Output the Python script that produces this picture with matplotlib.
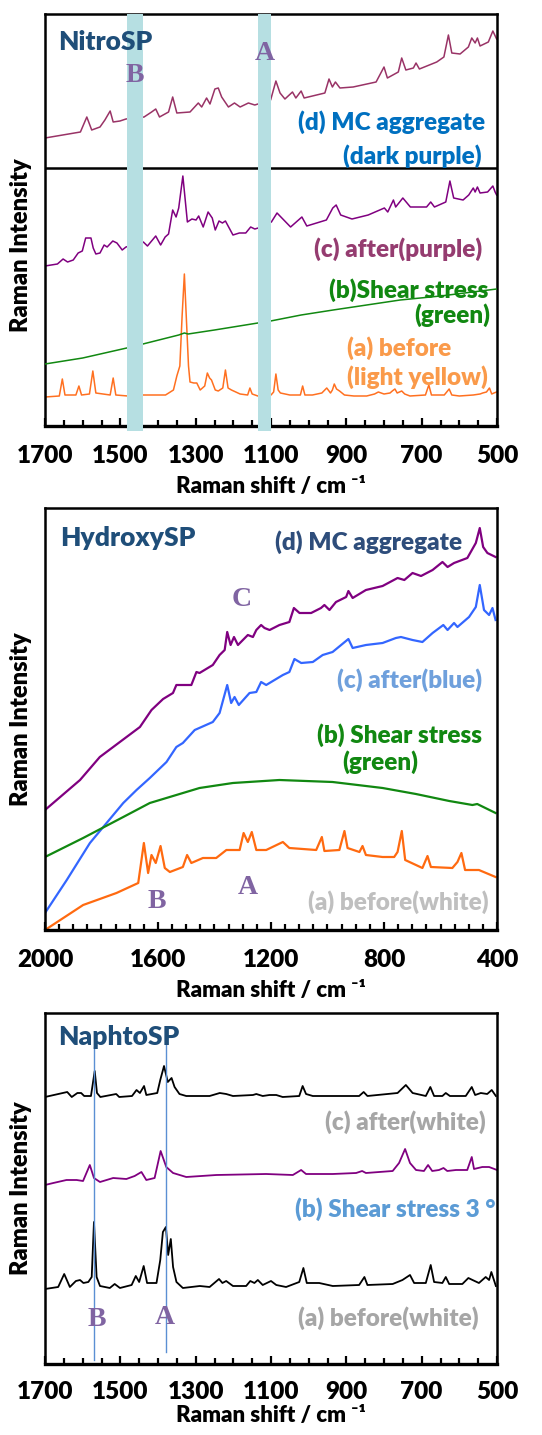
import numpy as np
import matplotlib
matplotlib.use("Agg")
import matplotlib.pyplot as plt
from matplotlib.ticker import FixedLocator, MultipleLocator

plt.rcParams['font.family'] = ['Lato', 'DejaVu Sans']
WEIGHT = 'heavy'

# ---------------- NitroSP (top panel) ----------------
nitro_ticks = [1700, 1500, 1300, 1100, 900, 700, 500]
nitro_bands = [(1440, 1483), (1100, 1135)]

nitro_a_cm = [1700, 1662, 1654, 1647, 1618, 1610, 1603, 1582, 1573, 1565, 1527, 1519, 1512, 1480, 1440, 1380,
              1359, 1350, 1342, 1336, 1330, 1325, 1319, 1315, 1305, 1297, 1288, 1276, 1269, 1263, 1258, 1248,
              1240, 1228, 1221, 1214, 1205, 1182, 1162, 1156, 1150, 1135, 1100, 1093, 1087, 1081, 1075, 1050,
              1022, 1016, 1010, 990, 965, 952, 942, 937, 932, 926, 918, 905, 880, 846, 825, 815, 800, 784,
              778, 771, 765, 753, 745, 731, 690, 681, 674, 640, 627, 620, 600, 563, 545, 538, 528, 520, 514,
              508, 501]
nitro_a_int = [29, 30, 47, 31, 31, 40, 31, 32, 55, 33, 31, 48, 31, 30, 31, 31,
               36, 50, 60, 110, 152, 110, 60, 44, 43, 43, 36, 40, 53, 48, 46, 36,
               35, 38, 56, 38, 36, 32, 31, 38, 32, 30, 31, 34, 52, 36, 33, 31,
               31, 40, 31, 31, 33, 38, 33, 36, 42, 37, 35, 31, 30, 30, 32, 34, 32, 33,
               35, 37, 33, 35, 32, 30, 31, 41, 31, 31, 37, 31, 30, 31, 32, 33, 34, 38, 32,
               33, 34]

nitro_b_cm = [1700, 1600, 1483, 1440, 1345, 1330, 1320, 1250, 1135, 1101, 1020, 935, 757, 650, 501]
nitro_b_int = [62, 68, 78, 82, 91, 93, 92, 96, 103, 105, 111, 116, 126, 130, 137]

nitro_c_cm = [1700, 1667, 1652, 1640, 1625, 1612, 1601, 1592, 1584, 1578, 1572, 1565, 1554, 1543, 1535, 1520,
              1509, 1495, 1485, 1439, 1428, 1406, 1393, 1381, 1372, 1361, 1352, 1345, 1334, 1322, 1310, 1299,
              1292, 1280, 1267, 1256, 1248, 1238, 1229, 1221, 1201, 1184, 1167, 1154, 1143, 1134, 1099, 1084,
              1048, 1018, 1005, 953, 936, 927, 915, 885, 842, 799, 790, 775, 769, 750, 730, 687, 676, 666,
              636, 625, 615, 590, 575, 563, 558, 552, 545, 525, 511, 505, 501]
nitro_c_int = [160, 162, 167, 164, 166, 173, 175, 188, 188, 188, 178, 172, 173, 181, 179, 185,
               183, 176, 179, 184, 180, 190, 181, 189, 192, 216, 209, 218, 250, 204, 207, 206,
               210, 199, 214, 208, 196, 205, 203, 205, 191, 193, 193, 199, 197, 198, 204, 213,
               199, 209, 200, 206, 218, 221, 211, 207, 211, 218, 214, 226, 219, 228, 219, 219, 224, 219,
               224, 245, 228, 226, 231, 238, 234, 239, 233, 234, 240, 234, 231]

nitro_d_cm = [1700, 1606, 1589, 1576, 1554, 1541, 1527, 1519, 1501, 1485, 1437, 1417, 1406, 1396, 1372, 1361,
              1350, 1315, 1293, 1284, 1271, 1262, 1249, 1240, 1231, 1213, 1197, 1182, 1160, 1143, 1101, 1087,
              1076, 1063, 1043, 1034, 1020, 1012, 957, 946, 937, 929, 917, 882, 821, 800, 791, 762, 753,
              742, 722, 715, 706, 660, 641, 629, 620, 598, 576, 567, 558, 552, 545, 523, 511, 501]
nitro_d_int = [288, 294, 309, 296, 299, 306, 315, 304, 305, 307, 309, 314, 317, 309, 314, 329,
               313, 314, 323, 319, 328, 322, 337, 338, 329, 319, 323, 319, 323, 321, 326, 345,
               333, 327, 334, 328, 335, 328, 333, 347, 339, 344, 338, 339, 344, 359, 348, 354, 368,
               356, 358, 363, 357, 364, 369, 391, 373, 372, 379, 388, 383, 388, 380, 384, 395, 387]

# ---------------- HydroxySP (middle panel) ----------------
hydroxy_ticks = [2000, 1600, 1200, 800, 400]

hydroxy_d_cm = [2000, 1876, 1806, 1664, 1623, 1582, 1547, 1535, 1482, 1464, 1453, 1406, 1382, 1364, 1355, 1343,
                1331, 1317, 1282, 1264, 1252, 1235, 1223, 1205, 1170, 1135, 1119, 1099, 1058, 1023, 1011, 993,
                970, 934, 926, 911, 864, 805, 752, 728, 699, 669, 628, 593, 575, 552, 505, 475, 461, 449,
                434, 405]
hydroxy_d_int = [120, 150, 173, 203, 220, 231, 237, 245, 245, 258, 257, 265, 275, 280, 298, 285,
                 293, 285, 295, 293, 300, 305, 302, 300, 305, 308, 322, 317, 317, 322, 325, 320,
                 328, 333, 339, 332, 340, 344, 352, 350, 357, 354, 360, 368, 363, 367, 372, 387, 402, 383,
                 377, 373]

hydroxy_c_cm = [2000, 1923, 1841, 1782, 1723, 1676, 1629, 1570, 1535, 1512, 1470, 1406, 1382, 1355, 1341, 1329,
                1314, 1276, 1252, 1235, 1217, 1158, 1135, 1117, 1093, 1052, 1017, 982, 926, 911, 864, 805,
                758, 740, 699, 664, 628, 590, 575, 552, 540, 499, 475, 461, 446, 428, 416, 405]
hydroxy_c_int = [17, 50, 87, 107, 127, 140, 152, 168, 183, 187, 200, 208, 217, 245, 227, 233,
                 225, 237, 238, 248, 245, 255, 258, 271, 267, 268, 275, 278, 291, 282, 285, 287,
                 292, 293, 290, 288, 297, 305, 300, 307, 303, 313, 323, 345, 320, 315, 322, 310]

hydroxy_b_cm = [2000, 1865, 1723, 1629, 1453, 1335, 1170, 982, 805, 687, 569, 487, 470, 405]
hydroxy_b_int = [73, 92, 113, 127, 142, 147, 150, 148, 142, 136, 129, 125, 126, 117]

hydroxy_a_cm = [2000, 1865, 1747, 1670, 1650, 1635, 1623, 1608, 1591, 1576, 1558, 1512, 1497, 1482, 1441, 1394,
                1358, 1311, 1297, 1282, 1268, 1252, 1217, 1158, 1135, 1040, 1020, 1011, 958, 940, 929, 887,
                876, 864, 805, 764, 752, 737, 725, 664, 646, 634, 558, 540, 526, 513, 464, 405]
hydroxy_a_int = [0, 25, 37, 47, 87, 57, 75, 67, 84, 62, 58, 63, 75, 67, 72, 72,
                 80, 80, 97, 88, 98, 80, 80, 88, 82, 80, 93, 79, 80, 99, 82, 78,
                 84, 75, 73, 73, 78, 99, 70, 62, 74, 63, 62, 68, 77, 60, 60, 53]

# ---------------- NaphtoSP (bottom panel) ----------------
naphto_ticks = [1700, 1500, 1300, 1100, 900, 700, 500]
naphto_marks_cm = [1570, 1380]

naphto_c_cm = [1700, 1641, 1629, 1614, 1604, 1596, 1578, 1568, 1562, 1553, 1511, 1503, 1469, 1457, 1448, 1437,
               1431, 1402, 1394, 1384, 1374, 1364, 1356, 1343, 1325, 1263, 1236, 1219, 1201, 1148, 1139, 1122,
               1104, 1086, 1069, 1025, 1016, 1007, 989, 866, 854, 844, 764, 742, 724, 689, 677, 667, 645,
               636, 625, 583, 567, 558, 543, 526, 514, 503]
naphto_c_int = [267, 272, 267, 271, 271, 268, 268, 293, 271, 267, 270, 267, 268, 274, 271, 278,
                269, 271, 284, 298, 282, 286, 277, 270, 268, 268, 271, 270, 268, 269, 270, 268,
                269, 269, 267, 268, 278, 270, 268, 268, 272, 268, 271, 279, 271, 268, 277, 268, 268,
                271, 268, 268, 277, 269, 271, 270, 274, 268]

naphto_b_cm = [1700, 1678, 1643, 1616, 1599, 1581, 1570, 1554, 1519, 1484, 1462, 1444, 1431, 1409, 1393, 1378,
               1360, 1325, 1245, 1113, 1042, 1020, 1007, 936, 874, 858, 848, 777, 760, 744, 731, 715,
               694, 683, 672, 654, 642, 632, 609, 579, 567, 561, 539, 521, 500]
naphto_b_int = [179, 181, 184, 184, 183, 199, 186, 182, 186, 185, 188, 192, 184, 186, 213, 197,
                191, 187, 189, 190, 189, 194, 190, 190, 191, 193, 191, 193, 201, 215, 201, 194,
                193, 199, 193, 194, 196, 193, 194, 194, 207, 195, 197, 197, 194]

naphto_a_cm = [1700, 1665, 1649, 1634, 1618, 1607, 1598, 1585, 1576, 1570, 1563, 1554, 1528, 1515, 1501, 1470,
               1459, 1450, 1438, 1429, 1404, 1394, 1387, 1379, 1373, 1366, 1360, 1351, 1334, 1289, 1263, 1238,
               1229, 1219, 1201, 1166, 1155, 1144, 1135, 1122, 1100, 1086, 1060, 1025, 1014, 1005, 972, 936,
               866, 852, 844, 777, 751, 731, 720, 689, 676, 667, 645, 636, 627, 592, 576, 565, 548, 530,
               521, 515, 503]
naphto_a_int = [75, 77, 90, 77, 83, 84, 81, 82, 87, 142, 87, 78, 76, 80, 76, 79,
                88, 82, 98, 81, 81, 104, 132, 137, 109, 125, 97, 82, 76, 78, 77, 85,
                81, 83, 78, 78, 83, 81, 84, 79, 83, 79, 77, 82, 96, 81, 81, 78,
                79, 87, 79, 80, 84, 89, 81, 81, 99, 82, 81, 87, 80, 80, 86, 84, 81, 87,
                84, 92, 78]

# ---------------- figure ----------------
fig = plt.figure(figsize=(5.42, 14.35), dpi=100)
W, H = 542, 1435


def make_axes(top, bottom):
    return fig.add_axes([45 / W, 1 - bottom / H, 452 / W, (bottom - top) / H])


navy = '#1f4e79'
letter_col = '#8064a2'
grey = '#bfbfbf'


def style_axes(ax, xlim, ylim, ticks, ylab_y=0.5, tpad=14, lpad=6):
    ax.set_xlim(*xlim)
    ax.set_ylim(*ylim)
    ax.xaxis.set_major_locator(FixedLocator(ticks))
    ax.xaxis.set_minor_locator(MultipleLocator(50))
    ax.tick_params(axis='x', which='both', direction='in', top=False, width=1.6, labelsize=17.5, pad=tpad)
    ax.tick_params(axis='x', which='major', length=6)
    ax.tick_params(axis='x', which='minor', length=4)
    ax.set_yticks([])
    for s in ax.spines.values():
        s.set_linewidth(1.8)
    ax.spines['bottom'].set_linewidth(2.4)
    for lab in ax.get_xticklabels():
        lab.set_fontweight(WEIGHT)
    ax.set_xlabel('Raman shift / cm \u207b\u00b9', fontsize=16, fontweight=WEIGHT, labelpad=lpad)
    ax.set_ylabel('Raman Intensity', fontsize=17, fontweight=WEIGHT)
    ax.yaxis.set_label_coords(-0.028, ylab_y)


def note(ax, x, y, s, color, ha='right', size=17.5, z=8):
    ax.text(x, y, s, fontsize=size, color=color, fontweight=WEIGHT, ha=ha, va='center', zorder=z)


def letter(ax, x, y, s):
    ax.text(x, y, s, fontsize=20, color=letter_col, fontweight='bold',
            family=['Liberation Serif', 'DejaVu Serif'], ha='center', va='center', zorder=8)


# NitroSP
ax1 = make_axes(14, 426)
ax1.plot(nitro_d_cm, nitro_d_int, color='#993366', lw=1.1)
ax1.plot(nitro_c_cm, nitro_c_int, color='#800080', lw=1.1)
ax1.plot(nitro_b_cm, nitro_b_int, color='#118811', lw=1.1, zorder=3)
ax1.plot(nitro_a_cm, nitro_a_int, color='#ff7020', lw=1.1)
ax1.axhline(258, color='black', lw=1.8)
for lo, hi in nitro_bands:
    ax1.axvspan(lo, hi, ymin=-0.012, ymax=1.0, color='#b6dfe2', lw=0, zorder=5, clip_on=False)
style_axes(ax1, (1700, 500), (0, 412), nitro_ticks, ylab_y=0.44)
note(ax1, 1666, 384, 'NitroSP', navy, ha='left', size=19)
letter(ax1, 1116, 372, 'A')
letter(ax1, 1461, 351, 'B')
note(ax1, 532, 304, '(d) MC aggregate', '#0070c0')
note(ax1, 540, 270, '(dark purple)', '#0070c0')
note(ax1, 540, 177, '(c) after(purple)', '#953c70')
note(ax1, 524, 136, '(b)Shear stress', '#118811', z=2)
note(ax1, 519, 111, '(green)', '#118811')
note(ax1, 898, 78, '(a) before', '#fa9a4a', ha='left')
note(ax1, 898, 49, '(light yellow)', '#fa9a4a', ha='left')

# HydroxySP
ax2 = make_axes(508, 930)
ax2.plot(hydroxy_d_cm, hydroxy_d_int, color='#800080', lw=1.6)
ax2.plot(hydroxy_c_cm, hydroxy_c_int, color='#3366ff', lw=1.6)
ax2.plot(hydroxy_b_cm, hydroxy_b_int, color='#118811', lw=1.6)
ax2.plot(hydroxy_a_cm, hydroxy_a_int, color='#ff6a10', lw=1.6)
style_axes(ax2, (2000, 400), (0, 422), hydroxy_ticks)
note(ax2, 1947, 392, 'HydroxySP', navy, ha='left', size=19)
note(ax2, 524, 388, '(d) MC aggregate', '#2e4d7b')
letter(ax2, 1304, 330, 'C')
note(ax2, 453, 250, '(c) after(blue)', '#6fa0dc')
note(ax2, 453, 195, '(b) Shear stress', '#118811')
note(ax2, 813, 168, '(green)', '#118811', ha='center')
letter(ax2, 1604, 28, 'B')
letter(ax2, 1283, 42, 'A')
note(ax2, 428, 28, '(a) before(white)', grey)

# NaphtoSP
ax3 = make_axes(1013, 1364)
ax3.plot(naphto_c_cm, naphto_c_int, color='black', lw=1.3)
ax3.plot(naphto_b_cm, naphto_b_int, color='#800080', lw=1.3)
ax3.plot(naphto_a_cm, naphto_a_int, color='black', lw=1.3)
ax3.plot([naphto_marks_cm[0]] * 2, [4, 317], color='#5b8fd3', lw=1.0)
ax3.plot([naphto_marks_cm[1]] * 2, [12, 326], color='#5b8fd3', lw=1.0)
style_axes(ax3, (1700, 500), (0, 351), naphto_ticks, tpad=12, lpad=2)
note(ax3, 1666, 327, 'NaphtoSP', navy, ha='left', size=19)
note(ax3, 529, 242, '(c) after(white)', '#a6a6a6')
note(ax3, 503, 155, '(b) Shear stress 3 \u00b0', '#5b9bd5')
letter(ax3, 1562, 44, 'B')
letter(ax3, 1382, 46, 'A')
note(ax3, 548, 46, '(a) before(white)', '#a6a6a6')

fig.savefig('out.png', dpi=100)
